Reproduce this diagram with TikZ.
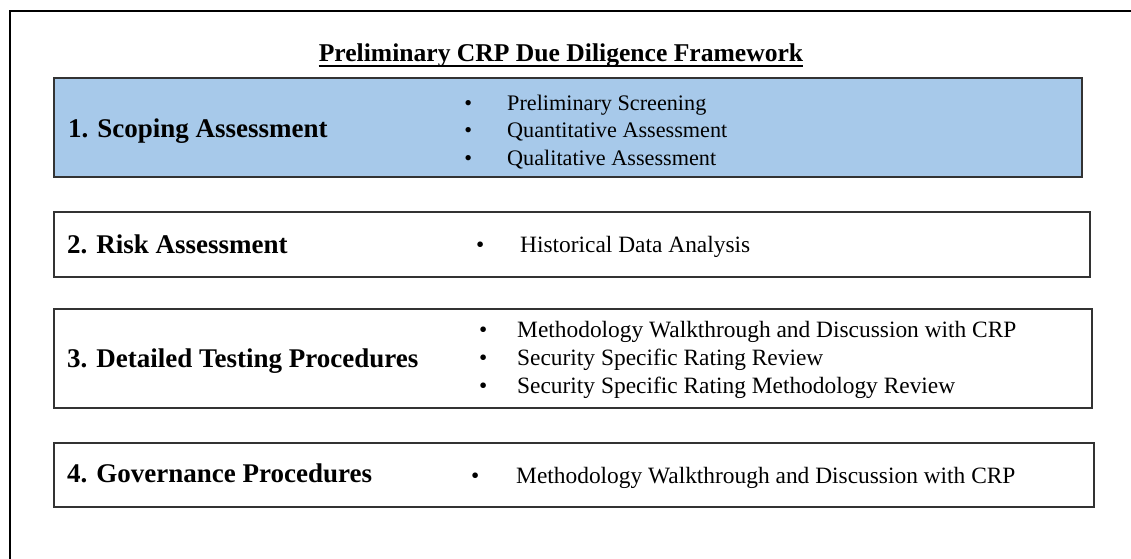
\documentclass[tikz,border=0pt]{standalone}
\usepackage{fontspec}
\setmainfont{Liberation Serif}
\definecolor{scopeblue}{HTML}{A7C9EA}
\newcommand{\bul}[1]{\llap{\textbullet\hspace{#1}}}
\tikzset{
  stage/.style={draw=black!80, line width=1.5pt, anchor=north west, inner sep=0pt},
  stagename/.style={anchor=base west, inner sep=0pt, font=\fontsize{27}{30}\selectfont\bfseries},
  stageitem/.style={anchor=base west, inner sep=0pt, font=\fontsize{23.4}{27}\selectfont},
  scopeitem/.style={stageitem, font=\fontsize{22.2}{27}\selectfont},
}
\begin{document}
\begin{tikzpicture}[x=1pt,y=-1pt]
	\useasboundingbox (0,0) rectangle (1131,558);
	% frame
	\draw [line width=2.6pt] (10,570) -- (10,11) -- (1140,11);
	% title
	\node [anchor=base, inner sep=0pt, font=\fontsize{25.6}{30}\selectfont\bfseries] (title) at (561,61) {Preliminary CRP Due Diligence Framework};
	\draw [line width=1.8pt] ([yshift=-5pt]title.base west) -- ([yshift=-5pt]title.base east);
	% stages
	\node [stage, fill=scopeblue, minimum width=1028pt, minimum height=99pt] (scoping) at (53,77) {};
	\node [stage, minimum width=1036pt, minimum height=65pt] (risk) at (53,211) {};
	\node [stage, minimum width=1038pt, minimum height=99pt] (testing) at (53,308) {};
	\node [stage, minimum width=1040pt, minimum height=64pt] (governance) at (53,442) {};
	\node [stagename] (scopingname) at (68,137) {1. Scoping Assessment};
	\node [stagename] (riskname) at (67,253) {2. Risk Assessment};
	\node [stagename] (testingname) at (67,367) {3. Detailed Testing Procedures};
	\node [stagename] (governancename) at (67,482) {4. Governance Procedures};
	% items
	\node [scopeitem] (scoping1) at (507,110) {\bul{35pt}Preliminary Screening};
	\node [scopeitem] (scoping2) at (507,137.5) {\bul{35pt}Quantitative Assessment};
	\node [scopeitem] (scoping3) at (507,165) {\bul{35pt}Qualitative Assessment};
	\node [stageitem] (risk1) at (520,252) {\bul{36pt}Historical Data Analysis};
	\node [stageitem] (testing1) at (517,337) {\bul{30pt}Methodology Walkthrough and Discussion with CRP};
	\node [stageitem] (testing2) at (517,365) {\bul{30pt}Security Specific Rating Review};
	\node [stageitem] (testing3) at (517,393) {\bul{30pt}Security Specific Rating Methodology Review};
	\node [stageitem] (governance1) at (516,483) {\bul{37pt}Methodology Walkthrough and Discussion with CRP};
\end{tikzpicture}
\end{document}
